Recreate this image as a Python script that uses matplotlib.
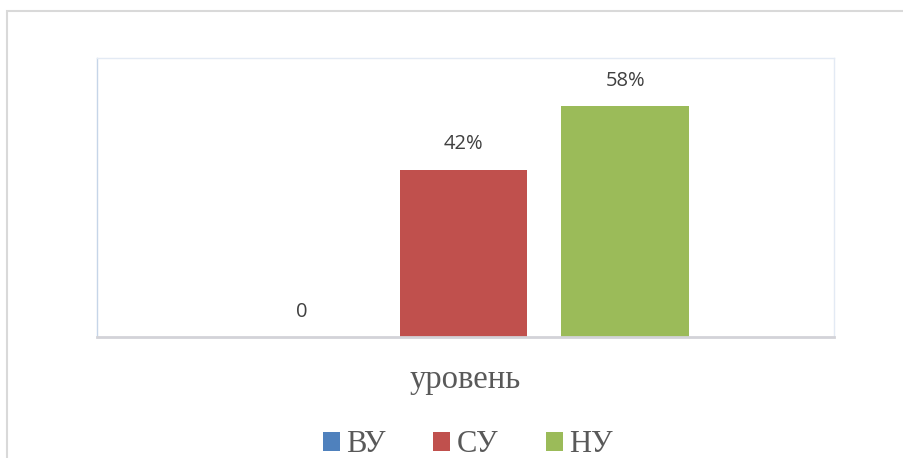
import matplotlib
matplotlib.use("Agg")
import matplotlib.pyplot as plt
from matplotlib.patches import Patch, Rectangle

# chart data
categories = ["ВУ", "СУ", "НУ"]
values = [0.0, 0.42, 0.58]
labels = ["0", "42%", "58%"]
colors = ["#4F81BD", "#C0504D", "#9BBB59"]
axis_title = "уровень"

W, H = 904, 458
fig = plt.figure(figsize=(W / 100, H / 100), dpi=100)

# outer chart frame (runs off right and bottom edges)
fig.patches.append(Rectangle((7 / W, -0.1), 1.2, 1 - 11 / H + 0.1,
                             transform=fig.transFigure, fill=False,
                             edgecolor="#D9D9D9", linewidth=1.5))

ax = fig.add_axes([97 / W, (H - 337) / H, (834 - 97) / W, (337 - 58) / H])

x = list(range(len(categories)))
bars = ax.bar(x, values, width=0.79, color=colors)
ax.set_xlim(-1.265, 3.29)
ax.set_ylim(0, 0.70)

for rect, lab in zip(bars, labels):
    ax.annotate(lab, (rect.get_x() + rect.get_width() / 2, rect.get_height()),
                xytext=(0, 18.2), textcoords="offset points",
                ha="center", va="center", fontsize=14.5,
                family="Open Sans", color="#404040")

ax.set_xticks([])
ax.set_yticks([])
for side in ["left", "top", "right"]:
    ax.spines[side].set_color("#E3EAF4")
    ax.spines[side].set_linewidth(1.0)
ax.spines["left"].set_color("#C6D5E8")
ax.spines["bottom"].set_color("#D3D3D8")
ax.spines["bottom"].set_linewidth(2.0)

fig.text(465 / W, 1 - 388 / H, axis_title, ha="center", va="baseline",
         fontsize=23.5, family="Liberation Serif", color="#595959")

handles = [Patch(facecolor=c, edgecolor="none") for c in colors]
fig.legend(handles, categories, loc="center", bbox_to_anchor=(468 / W, 1 - 445 / H),
           ncol=3, frameon=False, handlelength=0.55, handleheight=0.55,
           handletextpad=0.22, columnspacing=1.55,
           prop={"family": "Liberation Serif", "size": 22})
for t in fig.legends[0].get_texts():
    t.set_color("#595959")

fig.savefig("out.png", dpi=100)
